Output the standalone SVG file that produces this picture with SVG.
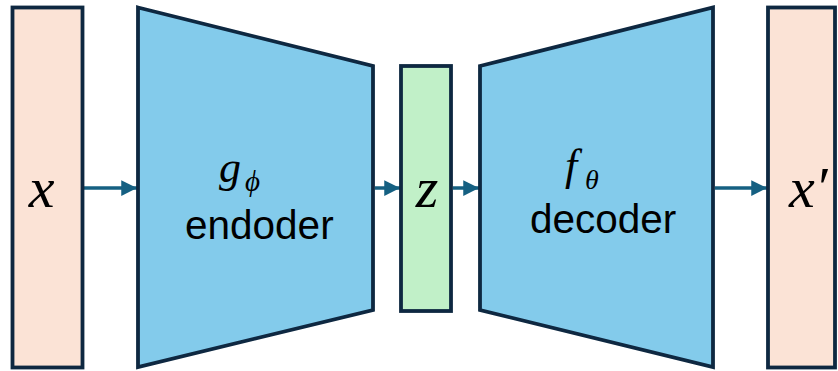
<svg xmlns="http://www.w3.org/2000/svg" width="838" height="371" viewBox="0 0 838 371">
<defs>
<style>
.box{stroke:#0E2841;stroke-width:3.8;stroke-linejoin:miter}
.io{fill:#FBE3D6}
.net{fill:#83CBEB}
.lat{fill:#C1F0C8}
.math{font-family:"Liberation Serif","DejaVu Serif",serif;font-style:italic;fill:#000}
.lbl{font-family:"Liberation Sans",Arial,sans-serif;font-size:40.5px;fill:#000}
.conn{stroke:#156082;stroke-width:3.5;fill:none}
</style>
<marker id="ah" viewBox="0 0 10 10" refX="10" refY="5" markerWidth="4.5" markerHeight="4.5" markerUnits="strokeWidth" orient="auto">
<path d="M0,0 L10,5 L0,10 z" fill="#156082"/>
</marker>
</defs>
<g id="connectors">
<line class="conn" x1="84" y1="188" x2="137" y2="188" marker-end="url(#ah)"/>
<line class="conn" x1="375" y1="188" x2="400" y2="188" marker-end="url(#ah)"/>
<line class="conn" x1="453" y1="188" x2="479" y2="188" marker-end="url(#ah)"/>
<line class="conn" x1="715" y1="188" x2="767" y2="188" marker-end="url(#ah)"/>
</g>
<g id="input">
<rect class="box io" x="12.5" y="7.5" width="70" height="360"/>
<text class="math" x="41.5" y="207" font-size="58" text-anchor="middle">x</text>
</g>
<g id="encoder">
<polygon class="box net" points="138,7.5 373,66 373,310 138,367"/>
<text class="math" x="219" y="182" font-size="44">g</text>
<text class="math" x="245" y="191" font-size="29">ϕ</text>
<text class="lbl" x="185" y="239">endoder</text>
</g>
<g id="latent">
<rect class="box lat" x="401" y="66" width="50" height="245"/>
<text class="math" x="427" y="207" font-size="58" text-anchor="middle">z</text>
</g>
<g id="decoder">
<polygon class="box net" points="480,66 713,7.5 713,367 480,310"/>
<text class="math" x="565" y="180" font-size="44">f</text>
<text class="math" x="585" y="189" font-size="28">θ</text>
<text class="lbl" x="530" y="233">decoder</text>
</g>
<g id="output">
<rect class="box io" x="768" y="7.5" width="67" height="360"/>
<text class="math" x="789" y="207" font-size="58">x′</text>
</g>
</svg>
